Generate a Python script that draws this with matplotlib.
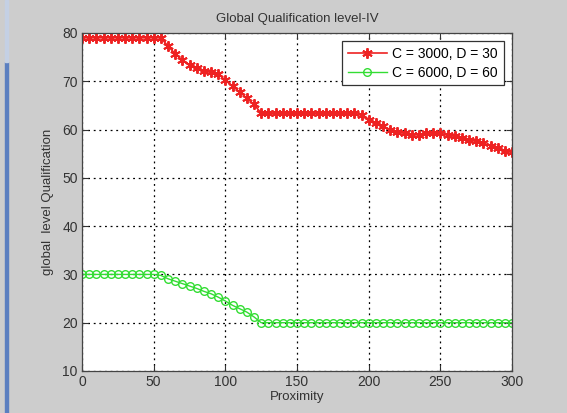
"""Global Qualification level-IV: qualification vs proximity, MATLAB-style figure."""
import numpy as np
import matplotlib
matplotlib.use("Agg")
import matplotlib.pyplot as plt
from matplotlib.patches import Rectangle

proximity = np.arange(0, 301, 5)

qual_c3000 = [79.0] * 12 + [
    77.3, 75.7, 74.4, 73.4, 72.8, 72.1, 71.9, 71.6, 70.2, 69.0, 67.8, 66.5, 65.2,
    63.4, 63.4, 63.4, 63.4, 63.4, 63.4, 63.4, 63.4, 63.4, 63.4, 63.4, 63.4, 63.4, 63.4,
    63.0, 62.0, 61.4, 60.7, 60.0, 59.5, 59.2, 58.8, 58.95, 59.2, 59.3, 59.2,
    58.9, 58.6, 58.3, 57.9, 57.6, 57.2, 56.7, 56.1, 55.6, 55.3,
]
qual_c6000 = [30.0] * 11 + [
    29.8, 29.1, 28.6, 28.1, 27.6, 27.1, 26.5, 26.0, 25.3, 24.5, 23.6, 22.9, 22.2,
    21.2, 20.0,
] + [20.0] * 35

labels = ["C = 3000, D = 30", "C = 6000, D = 60"]
xticks = [0, 50, 100, 150, 200, 250, 300]
yticks = [10, 20, 30, 40, 50, 60, 70, 80]

plt.rcParams["font.family"] = ["Liberation Sans", "DejaVu Sans"]

fig = plt.figure(figsize=(5.67, 4.13), dpi=100, facecolor="#cdcdcd")
# window frame bits from the screenshot
fig.patches.append(Rectangle((5 / 567, 0), 3 / 567, 1 - 62 / 413,
                             transform=fig.transFigure, color="#5b7fc0", zorder=0))
fig.patches.append(Rectangle((5 / 567, 1 - 62 / 413), 3 / 567, 62 / 413,
                             transform=fig.transFigure, color="#c4d0e4", zorder=0))

ax = fig.add_axes([82 / 567, 1 - 371 / 413, 430 / 567, 338 / 413])
ax.set_facecolor("white")

ax.plot(proximity, qual_c3000, "-", color="#ee2222", lw=1.2,
        marker=(6, 2, 0), ms=7.5, mew=1.4, label=labels[0])
ax.plot(proximity, qual_c6000, "-", color="#33dd33", lw=1.0,
        marker="o", ms=5.5, mfc="none", mew=1.0, label=labels[1])

ax.set_xlim(0, 300)
ax.set_ylim(10, 80)
ax.set_xticks(xticks)
ax.set_yticks(yticks)
ax.grid(True, color="black", linestyle=(0, (1.5, 3)), linewidth=0.9)
ax.tick_params(direction="in", top=True, right=True, length=4,
               labelsize=10, colors="#333333", pad=3)
for s in ax.spines.values():
    s.set_color("#444444")
    s.set_linewidth(0.9)

ax.set_title("Global Qualification level-IV", fontsize=9.5, color="#333333", pad=8)
ax.set_xlabel("Proximity", fontsize=9.5, color="#333333", labelpad=1)
ax.set_ylabel("global  level Qualification", fontsize=9.5, color="#333333", labelpad=6)

leg = ax.legend(loc="upper right", fontsize=10, fancybox=False, framealpha=1,
                edgecolor="#333333", handlelength=2.8, borderaxespad=0.6,
                labelspacing=0.35, handletextpad=0.4)
leg.get_frame().set_linewidth(0.9)

fig.savefig("out.png", dpi=100, facecolor=fig.get_facecolor())
